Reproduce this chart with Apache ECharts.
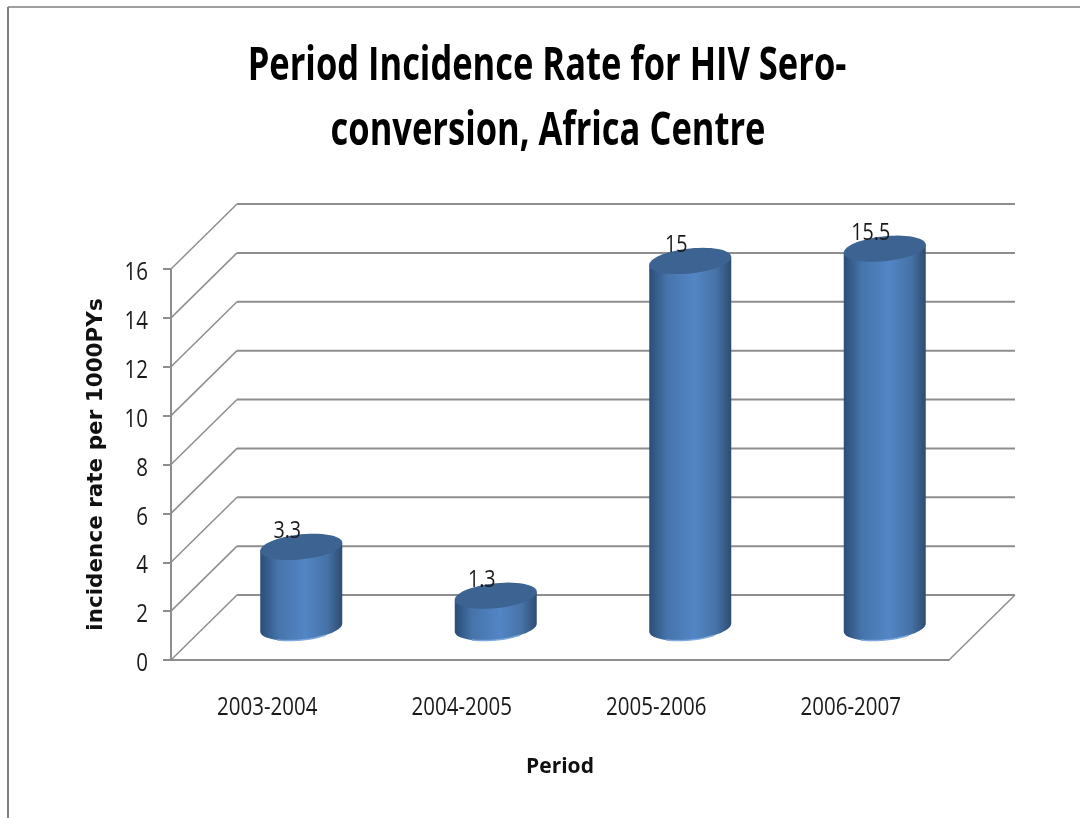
<!DOCTYPE html>
<html>
<head>
<meta charset="utf-8">
<title>Period Incidence Rate</title>
<script src="https://cdn.jsdelivr.net/npm/echarts@6/dist/echarts.min.js"></script>
<style>
  html, body { margin: 0; padding: 0; background: #fff; }
  #main { width: 1080px; height: 818px; }
</style>
</head>
<body>
<div id="main"></div>
<script>
var titleLines = ['Period Incidence Rate for HIV Sero-', 'conversion, Africa Centre'];
var periods = ['2003-2004', '2004-2005', '2005-2006', '2006-2007'];
var rates = [3.3, 1.3, 15, 15.5];
var yTicks = [0, 2, 4, 6, 8, 10, 12, 14, 16];

// fake 3d: how far the back wall sits from the front plane
var DEPTH_X = 66;
var DEPTH_Y = -65;
var RX = 41, RY = 12.5, TILT = -4;

// no condensed font installed, so the text gets squeezed with scaleX
var FONT = '"Open Sans", sans-serif';
var SQUEEZE = 0.82;
var GRID_COLOR = '#8e8e8e';

function ring(cx, cy, from, to, n) {
  var pts = [];
  for (var i = 0; i <= n; i++) {
    var t = from + (to - from) * i / n;
    pts.push([cx + RX * Math.cos(t), cy + RY * Math.sin(t) + TILT * Math.cos(t)]);
  }
  return pts;
}

function narrowText(str, x, y, size, align) {
  return {
    type: 'text',
    x: x,
    y: y,
    scaleX: SQUEEZE,
    style: {
      text: str,
      font: size + 'px ' + FONT,
      fill: '#1a1a1a',
      textAlign: align,
      textVerticalAlign: 'middle'
    }
  };
}

function renderWall(params, api) {
  var box = params.coordSys;
  var y = api.coord([0, api.value(0)])[1];
  var x0 = box.x, x1 = box.x + box.width;
  var line = { stroke: GRID_COLOR, lineWidth: 2 };
  var thin = { stroke: GRID_COLOR, lineWidth: 1.5 };
  var kids = [
    { type: 'line', shape: { x1: x0, y1: y, x2: x0 + DEPTH_X, y2: y + DEPTH_Y }, style: thin },
    { type: 'line', shape: { x1: x0 + DEPTH_X, y1: y + DEPTH_Y, x2: x1 + DEPTH_X, y2: y + DEPTH_Y }, style: line },
    narrowText(String(api.value(0)), x0 - 23, y + 4, 25, 'right')
  ];
  if (api.value(0) === 0) {
    kids.push({ type: 'line', shape: { x1: x1, y1: y, x2: x1 + DEPTH_X, y2: y + DEPTH_Y }, style: thin });
  }
  return { type: 'group', children: kids };
}

function renderCylinder(params, api) {
  var base = api.coord([api.value(0), 0]);
  var top = api.coord([api.value(0), api.value(1)]);
  var cx = base[0] + DEPTH_X / 2;
  var by = base[1] + DEPTH_Y / 2;
  var ty = top[1] + DEPTH_Y / 2;
  var lower = ring(cx, by, 0, Math.PI, 30);
  var body = lower.concat([[cx - RX, ty - TILT], [cx + RX, ty + TILT]]);
  return {
    type: 'group',
    children: [
      {
        type: 'polygon',
        shape: { points: body },
        style: {
          fill: {
            type: 'linear', x: 0, y: 0, x2: 1, y2: 0,
            colorStops: [
              { offset: 0, color: '#2b4d76' },
              { offset: 0.22, color: '#4674ab' },
              { offset: 0.55, color: '#5386c6' },
              { offset: 0.82, color: '#4672a6' },
              { offset: 1, color: '#2d4c72' }
            ]
          }
        }
      },
      {
        type: 'polyline',
        shape: { points: ring(cx, by, Math.PI * 0.3, Math.PI * 0.7, 12) },
        style: { stroke: '#7fa8dc', lineWidth: 1.5, fill: null }
      },
      {
        type: 'polygon',
        shape: { points: ring(cx, ty, 0, Math.PI * 2, 60) },
        style: { fill: '#3c6391' }
      },
      narrowText(String(api.value(1)), cx - 14, ty - 16, 24, 'center'),
      narrowText(periods[api.value(0)], base[0] - 1, base[1] + 48, 25, 'center')
    ]
  };
}

var myChart = echarts.init(document.getElementById('main'));
var option = {
  animation: false,
  backgroundColor: '#fff',
  graphic: [
    { type: 'line', shape: { x1: 8, y1: 7, x2: 1080, y2: 7 }, style: { stroke: '#808080', lineWidth: 1.5 } },
    { type: 'line', shape: { x1: 8, y1: 7, x2: 8, y2: 818 }, style: { stroke: '#808080', lineWidth: 2 } },
    {
      type: 'text', x: 547, y: 67, scaleX: 0.75,
      style: { text: titleLines[0], font: 'bold 46px ' + FONT, fill: '#000', textAlign: 'center', textVerticalAlign: 'middle' }
    },
    {
      type: 'text', x: 548, y: 132, scaleX: 0.75,
      style: { text: titleLines[1], font: 'bold 46px ' + FONT, fill: '#000', textAlign: 'center', textVerticalAlign: 'middle' }
    }
  ],
  grid: { left: 171, right: 131, top: 269, bottom: 158 },
  xAxis: {
    type: 'category',
    data: periods,
    name: 'Period',
    nameLocation: 'middle',
    nameGap: 97,
    nameTextStyle: { fontFamily: FONT, fontSize: 21, fontWeight: 'bold', color: '#111' },
    axisLine: { lineStyle: { color: GRID_COLOR, width: 2 } },
    axisTick: { length: 10, lineStyle: { color: GRID_COLOR, width: 2 } },
    axisLabel: { show: false },
    splitLine: { show: false }
  },
  yAxis: {
    type: 'value',
    min: 0,
    max: 16,
    interval: 2,
    name: 'incidence rate per 1000PYs',
    nameLocation: 'middle',
    nameGap: 64,
    nameTextStyle: { fontFamily: 'DejaVu Sans', fontSize: 21.5, fontWeight: 'bold', color: '#111' },
    axisLine: { show: true, lineStyle: { color: GRID_COLOR, width: 2 } },
    axisTick: { show: true, length: 8, lineStyle: { color: GRID_COLOR, width: 2 } },
    axisLabel: { show: false },
    splitLine: { show: false }
  },
  series: [
    {
      type: 'custom',
      name: 'wall',
      data: yTicks.map(function (t) { return [t]; }),
      encode: { y: 0 },
      renderItem: renderWall,
      silent: true,
      z: 1
    },
    {
      type: 'custom',
      name: 'incidence rate',
      data: rates.map(function (v, i) { return [i, v]; }),
      encode: { x: 0, y: 1 },
      renderItem: renderCylinder,
      clip: false,
      z: 2
    }
  ]
};
myChart.setOption(option);
</script>
</body>
</html>
